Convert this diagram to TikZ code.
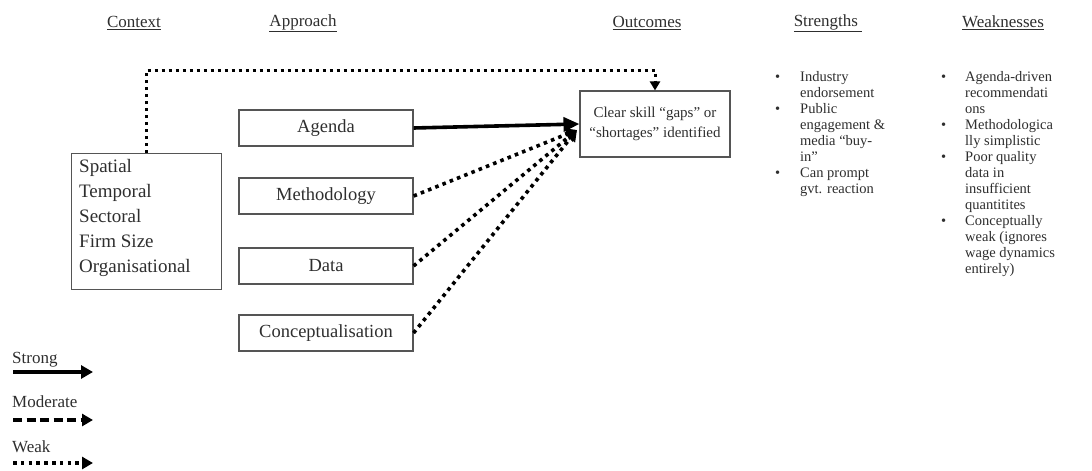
\documentclass[tikz,border=0pt]{standalone}
\usepackage{fontspec}
\setmainfont{Liberation Serif}
\usetikzlibrary{arrows.meta}
\definecolor{txt}{HTML}{2E2E2E}
\definecolor{bord}{HTML}{555555}
\tikzset{
  hdr/.style={font=\fontsize{17}{20}\selectfont, text=txt, inner sep=0pt},
  abox/.style={draw=bord, line width=1.1pt, minimum width=174pt, minimum height=36pt, inner sep=0pt, text=txt, font=\fontsize{18.5}{22}\selectfont},
  lst/.style={font=\fontsize{14.5}{16}\selectfont, text=txt, align=left, anchor=north west, inner sep=0pt},
  bul/.style={font=\fontsize{14.5}{16}\selectfont, text=txt, anchor=north west, inner sep=0pt},
  strongarr/.style={line width=3.6pt, -{Triangle[length=16pt,width=14pt]}},
  weakarr/.style={line width=3.6pt, dash pattern=on 3.6pt off 4.2pt, -{Triangle[length=11pt,width=12pt]}},
  modarr/.style={line width=3.6pt, dash pattern=on 9pt off 4.5pt, -{Triangle[length=11pt,width=12pt]}},
  topweak/.style={line width=3pt, dash pattern=on 3pt off 4pt, -{Triangle[length=9pt,width=10pt]}},
  leg/.style={font=\fontsize{17}{19}\selectfont, text=txt, anchor=base west, inner sep=0pt}
}
\begin{document}
\begin{tikzpicture}[x=1pt,y=-1pt]
\useasboundingbox (0,0) rectangle (1092,471);
% headers
\node[hdr] (hctx) at (134,23) {\underline{Context}};
\node[hdr] (happ) at (303,23) {\underline{Approach}};
\node[hdr] (hout) at (647,23) {\underline{Outcomes}};
\node[hdr] (hstr) at (828,23) {\underline{Strengths\ }};
\node[hdr] (hwk) at (1003,23) {\underline{Weaknesses}};
% context box
\node[draw=bord, line width=1.1pt, minimum width=150pt, minimum height=136pt, anchor=north west, inner sep=0pt] (ctx) at (71,153) {};
\node[font=\fontsize{19}{25}\selectfont, text=txt, align=left, anchor=north west, inner sep=0pt] (ctxt) at (79,159) {Spatial\\Temporal\\Sectoral\\Firm Size\\Organisational};
% approach boxes
\node[abox] (ag) at (326,128) {Agenda};
\node[abox] (me) at (326,196) {Methodology};
\node[abox] (da) at (326,266) {Data};
\node[abox] (co) at (326,333) {Conceptualisation};
% outcome box
\node[draw=bord, line width=1.1pt, minimum width=150pt, minimum height=66pt, inner sep=0pt, align=center, text=txt, font=\fontsize{15}{20}\selectfont] (out) at (655,124) {Clear skill ``gaps'' or\\``shortages'' identified};
% connectors
\coordinate (conv) at (577,130);
\draw[weakarr] (me.east) -- (conv);
\draw[weakarr] (da.east) -- (conv);
\draw[weakarr] (co.east) -- (conv);
\draw[strongarr] (ag.east) -- (out.west);
\draw[topweak] (ctx.north) -- ++(0,-83) -| (out.north);
% strengths
\node[bul] (sb1) at (775,70) {\strut•};
\node[lst] (s1) at (800,70) {\strut Industry\\endorsement};
\node[bul] (sb2) at (775,102) {\strut•};
\node[lst] (s2) at (800,102) {\strut Public\\engagement \&\\media ``buy-\\in''};
\node[bul] (sb3) at (775,166) {\strut•};
\node[lst] (s3) at (800,166) {\strut Can prompt\\gvt. reaction};
% weaknesses
\node[bul] (wb1) at (941,70) {\strut•};
\node[lst] (w1) at (965,70) {\strut Agenda-driven\\recommendati\\ons};
\node[bul] (wb2) at (941,118) {\strut•};
\node[lst] (w2) at (965,118) {\strut Methodologica\\lly simplistic};
\node[bul] (wb3) at (941,150) {\strut•};
\node[lst] (w3) at (965,150) {\strut Poor quality\\data in\\insufficient\\quantitites};
\node[bul] (wb4) at (941,214) {\strut•};
\node[lst] (w4) at (965,214) {\strut Conceptually\\weak (ignores\\wage dynamics\\entirely)};
% legend
\node[leg] (lstrong) at (12,363) {Strong};
\coordinate (ls0) at (13,372); \coordinate (ls1) at (93,372);
\draw[strongarr, -{Triangle[length=12pt,width=13pt]}] (ls0) -- (ls1);
\node[leg] (lmod) at (12,407) {Moderate};
\coordinate (lm0) at (13,420); \coordinate (lm1) at (93,420);
\draw[modarr] (lm0) -- (lm1);
\node[leg] (lweak) at (12,452) {Weak};
\coordinate (lw0) at (13,463); \coordinate (lw1) at (93,463);
\draw[weakarr] (lw0) -- (lw1);
\end{tikzpicture}
\end{document}
